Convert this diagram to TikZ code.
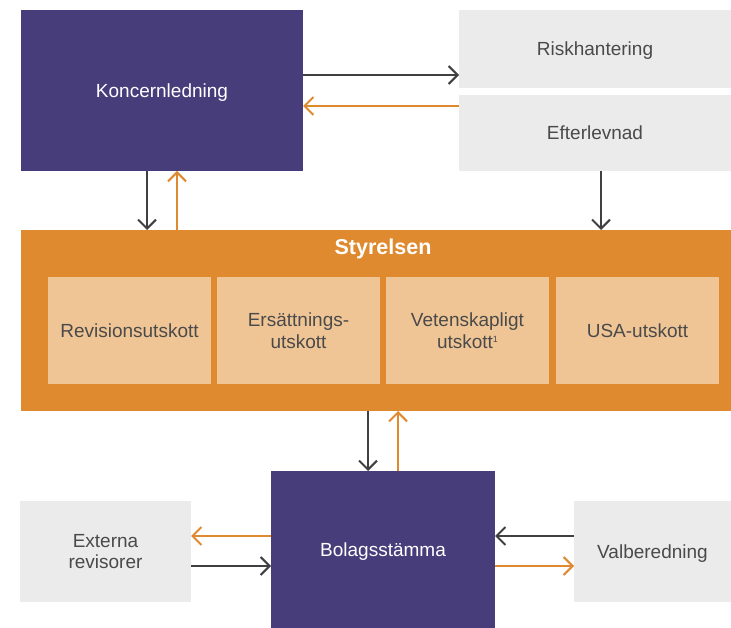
\documentclass[tikz,border=0pt]{standalone}
\usepackage{fontspec}
\setmainfont{Liberation Sans}
\usetikzlibrary{arrows.meta}
\definecolor{purp}{HTML}{483D7B}
\definecolor{orng}{HTML}{E08A30}
\definecolor{lorng}{HTML}{F0C596}
\definecolor{lgray}{HTML}{EBEBEB}
\definecolor{dline}{HTML}{404040}
\definecolor{txt}{HTML}{4A4A4A}
\tikzset{
  base/.style={anchor=north west, inner sep=0pt, outer sep=0pt, align=center, font=\fontsize{19}{21.5}\selectfont},
  one/.style={text height=14pt, text depth=0pt},
  pbox/.style={base, fill=purp, text=white},
  gbox/.style={base, fill=lgray, text=txt},
  obox/.style={base, fill=lorng, text=txt},
  darr/.style={draw=dline, line width=2pt, -{Straight Barb[length=9pt,width=18pt,line width=2pt]}},
  oarr/.style={draw=orng, line width=2pt, -{Straight Barb[length=9pt,width=18pt,line width=2pt]}}
}
\begin{document}
\begin{tikzpicture}[x=1pt,y=-1pt]
\useasboundingbox (0,0) rectangle (731,628);
\node[pbox, one, minimum width=282pt, minimum height=161pt] (kl) at (21,10) {Koncernledning};
\node[gbox, one, minimum width=272pt, minimum height=78pt] (risk) at (459,10) {Riskhantering};
\node[gbox, one, minimum width=272pt, minimum height=76pt] (eft) at (459,95) {Efterlevnad};
\node[base, fill=orng, minimum width=710pt, minimum height=181pt] (sty) at (21,230) {};
\node[font=\fontsize{21.5}{24}\selectfont\bfseries, text=white, inner sep=0pt] (styt) at (383,249) {Styrelsen};
\node[obox, one, minimum width=163pt, minimum height=107pt] (rev) at (48,277) {Revisionsutskott};
\node[obox, minimum width=163pt, minimum height=107pt] (ers) at (217,277) {Ersättnings-\\utskott};
\node[obox, minimum width=163pt, minimum height=107pt] (vet) at (386,277) {Vetenskapligt\\utskott\raisebox{0.55ex}{\fontsize{9}{9}\selectfont 1}};
\node[obox, one, minimum width=163pt, minimum height=107pt] (usa) at (556,277) {USA-utskott};
\node[pbox, one, minimum width=224pt, minimum height=157pt] (bol) at (271,471) {Bolagsstämma};
\node[gbox, minimum width=171pt, minimum height=101pt] (ext) at (20,501) {Externa\\revisorer};
\node[gbox, one, minimum width=157pt, minimum height=101pt] (val) at (574,501) {Valberedning};
% arrows
\draw[darr] (kl.east |- 0,75) -- (risk.west |- 0,75);
\draw[oarr] (eft.west |- 0,106) -- (kl.east |- 0,106);
\draw[darr] (kl.south -| 147,0) -- (sty.north -| 147,0);
\draw[oarr] (sty.north -| 177,0) -- (kl.south -| 177,0);
\draw[darr] (eft.south -| 601,0) -- (sty.north -| 601,0);
\draw[darr] (sty.south -| 368,0) -- (bol.north -| 368,0);
\draw[oarr] (bol.north -| 398,0) -- (sty.south -| 398,0);
\draw[oarr] (bol.west |- 0,536) -- (ext.east |- 0,536);
\draw[darr] (ext.east |- 0,566) -- (bol.west |- 0,566);
\draw[darr] (val.west |- 0,536) -- (bol.east |- 0,536);
\draw[oarr] (bol.east |- 0,566) -- (val.west |- 0,566);
\end{tikzpicture}
\end{document}
